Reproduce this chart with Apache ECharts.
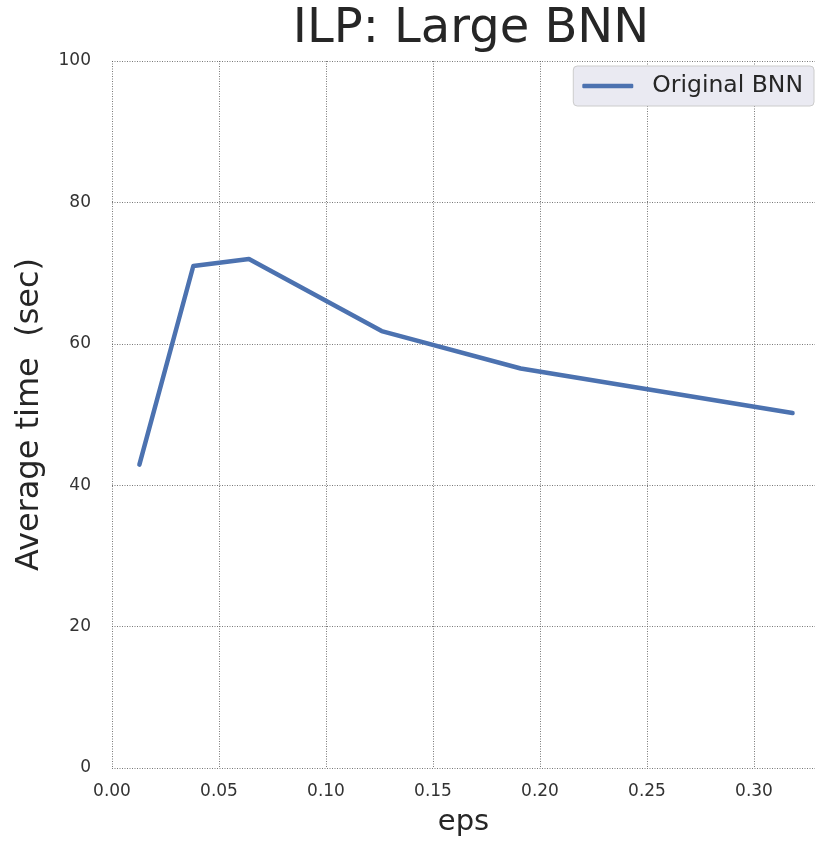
<!DOCTYPE html>
<html><head><meta charset="utf-8">
<script src="https://cdn.jsdelivr.net/npm/echarts@6/dist/echarts.min.js"></script>
<style>html,body{margin:0;padding:0;background:#fff}#c{width:815px;height:842px}</style>
</head><body><div id="c"></div>
<script>
const epsValues = [0.0128, 0.038, 0.064, 0.126, 0.191, 0.318];
const avgTime = [42.9, 71.0, 72.0, 61.8, 56.5, 50.2];
const seriesName = 'Original BNN';
const xTicks = [0, 0.05, 0.10, 0.15, 0.20, 0.25, 0.30];
const yTicks = [0, 20, 40, 60, 80, 100];

const chart = echarts.init(document.getElementById('c'), null, {renderer: 'canvas'});
const font = 'DejaVu Sans';
const gridLine = {show: true, lineStyle: {color: '#555', width: 0.8, type: [1, 1.5]}};
chart.setOption({
  backgroundColor: '#fff',
  animation: false,
  title: {
    text: 'ILP: Large BNN', left: 466, top: 1, textAlign: 'center',
    textStyle: {fontFamily: font, fontSize: 48, fontWeight: 'normal', color: '#262626'}
  },
  legend: {
    data: [seriesName], right: 1, top: 66,
    backgroundColor: '#eaeaf2', borderColor: '#cccccc', borderWidth: 1, borderRadius: 4,
    padding: [8, 11, 8, 9], itemWidth: 51, itemHeight: 4.5, itemGap: 10,
    icon: 'roundRect',
    textStyle: {fontFamily: font, fontSize: 23.5, color: '#262626', padding: [0, 0, 0, 14]}
  },
  grid: {left: 112, right: 0, top: 61, bottom: 74, containLabel: false, outerBoundsMode: 'none'},
  xAxis: {
    type: 'value', min: 0, max: 0.3285, interval: 0.05,
    name: 'eps', nameLocation: 'middle', nameGap: 40,
    nameTextStyle: {fontFamily: font, fontSize: 29, color: '#262626'},
    axisLine: {show: false}, axisTick: {show: false},
    axisLabel: {
      fontFamily: font, fontSize: 17, color: '#333', margin: 15, showMaxLabel: false,
      formatter: v => xTicks.some(t => Math.abs(t - v) < 1e-9) ? v.toFixed(2) : ''
    },
    splitLine: gridLine
  },
  yAxis: {
    type: 'value', min: 0, max: 100, interval: 20,
    name: 'Average time  (sec)', nameLocation: 'middle', nameGap: 66,
    nameTextStyle: {fontFamily: font, fontSize: 32, color: '#262626'},
    axisLine: {show: false}, axisTick: {show: false},
    axisLabel: {
      fontFamily: font, fontSize: 17, color: '#333', margin: 21,
      formatter: v => yTicks.includes(v) ? String(v) : ''
    },
    splitLine: gridLine
  },
  series: [{
    name: seriesName, type: 'line',
    data: epsValues.map((x, i) => [x, avgTime[i]]),
    showSymbol: false, symbol: 'none',
    lineStyle: {color: '#4c72b0', width: 4.5, cap: 'round', join: 'round'},
    itemStyle: {color: '#4c72b0'}
  }]
});
</script></body></html>
